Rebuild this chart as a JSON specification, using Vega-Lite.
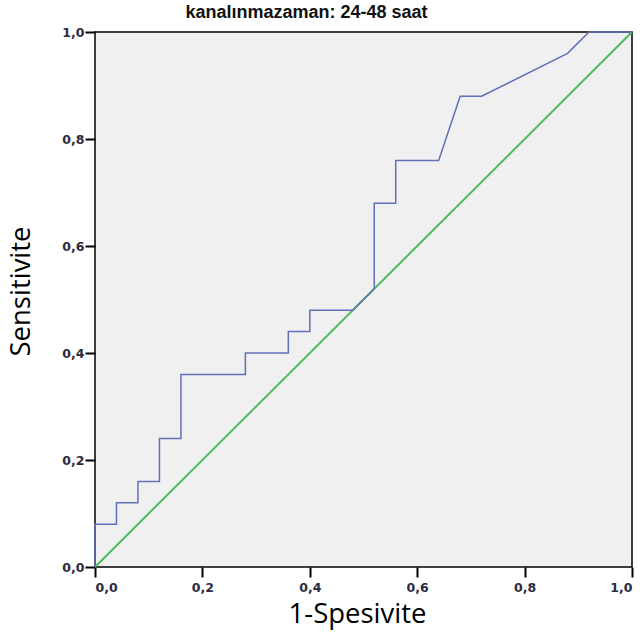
{
  "$schema": "https://vega.github.io/schema/vega-lite/v6.json",
  "width": 537,
  "height": 535,
  "autosize": "none",
  "padding": {"left": 95, "top": 32, "right": 10, "bottom": 68},
  "background": "white",
  "title": {
    "text": "kanalınmazaman: 24-48 saat",
    "font": "Liberation Sans",
    "fontSize": 18,
    "fontWeight": "bold",
    "color": "#111",
    "anchor": "middle",
    "dx": -57,
    "offset": 4
  },
  "config": {
    "view": {"fill": "#f0f0f0", "stroke": "#000", "strokeWidth": 1.5},
    "axis": {
      "grid": false,
      "domain": false,
      "tickColor": "#000",
      "tickWidth": 2,
      "tickSize": 10,
      "labelFont": "DejaVu Sans",
      "labelFontSize": 12.5,
      "labelFontWeight": "bold",
      "labelColor": "#2a2a40",
      "titleFont": "Open Sans",
      "titleFontSize": 27.5,
      "titleFontWeight": "normal",
      "titleColor": "#000"
    }
  },
  "datasets": {
    "roc": [
      {"x": 0.0, "y": 0.0, "o": 0},
      {"x": 0.0, "y": 0.08, "o": 1},
      {"x": 0.04, "y": 0.08, "o": 2},
      {"x": 0.04, "y": 0.12, "o": 3},
      {"x": 0.08, "y": 0.12, "o": 4},
      {"x": 0.08, "y": 0.16, "o": 5},
      {"x": 0.12, "y": 0.16, "o": 6},
      {"x": 0.12, "y": 0.24, "o": 7},
      {"x": 0.16, "y": 0.24, "o": 8},
      {"x": 0.16, "y": 0.36, "o": 9},
      {"x": 0.28, "y": 0.36, "o": 10},
      {"x": 0.28, "y": 0.40, "o": 11},
      {"x": 0.36, "y": 0.40, "o": 12},
      {"x": 0.36, "y": 0.44, "o": 13},
      {"x": 0.40, "y": 0.44, "o": 14},
      {"x": 0.40, "y": 0.48, "o": 15},
      {"x": 0.48, "y": 0.48, "o": 16},
      {"x": 0.52, "y": 0.52, "o": 17},
      {"x": 0.52, "y": 0.68, "o": 18},
      {"x": 0.56, "y": 0.68, "o": 19},
      {"x": 0.56, "y": 0.76, "o": 20},
      {"x": 0.64, "y": 0.76, "o": 21},
      {"x": 0.68, "y": 0.88, "o": 22},
      {"x": 0.72, "y": 0.88, "o": 23},
      {"x": 0.88, "y": 0.96, "o": 24},
      {"x": 0.92, "y": 1.0, "o": 25},
      {"x": 1.0, "y": 1.0, "o": 26}
    ],
    "ref": [
      {"x": 0.0, "y": 0.0, "o": 0},
      {"x": 1.0, "y": 1.0, "o": 1}
    ]
  },
  "layer": [
    {
      "data": {"name": "ref"},
      "mark": {"type": "line", "color": "#4cbb5a", "strokeWidth": 2},
      "encoding": {
        "x": {"field": "x", "type": "quantitative", "scale": {"domain": [0, 1]},
          "axis": {"title": "1-Spesivite", "values": [0, 0.2, 0.4, 0.6, 0.8, 1.0], "labelExpr": "replace(format(datum.value, '.1f'), '.', ',')", "labelPadding": 4, "titleY": 33, "titleBaseline": "top", "titleX": 262}},
        "y": {"field": "y", "type": "quantitative", "scale": {"domain": [0, 1]},
          "axis": {"title": "Sensitivite", "values": [0, 0.2, 0.4, 0.6, 0.8, 1.0], "labelExpr": "replace(format(datum.value, '.1f'), '.', ',')", "labelPadding": 1, "titleX": -74, "titleY": 259, "titleBaseline": "middle"}},
        "order": {"field": "o", "type": "quantitative"}
      }
    },
    {
      "data": {"name": "roc"},
      "mark": {"type": "line", "color": "#6070b8", "strokeWidth": 1.5},
      "encoding": {
        "x": {"field": "x", "type": "quantitative"},
        "y": {"field": "y", "type": "quantitative"},
        "order": {"field": "o", "type": "quantitative"}
      }
    }
  ]
}
